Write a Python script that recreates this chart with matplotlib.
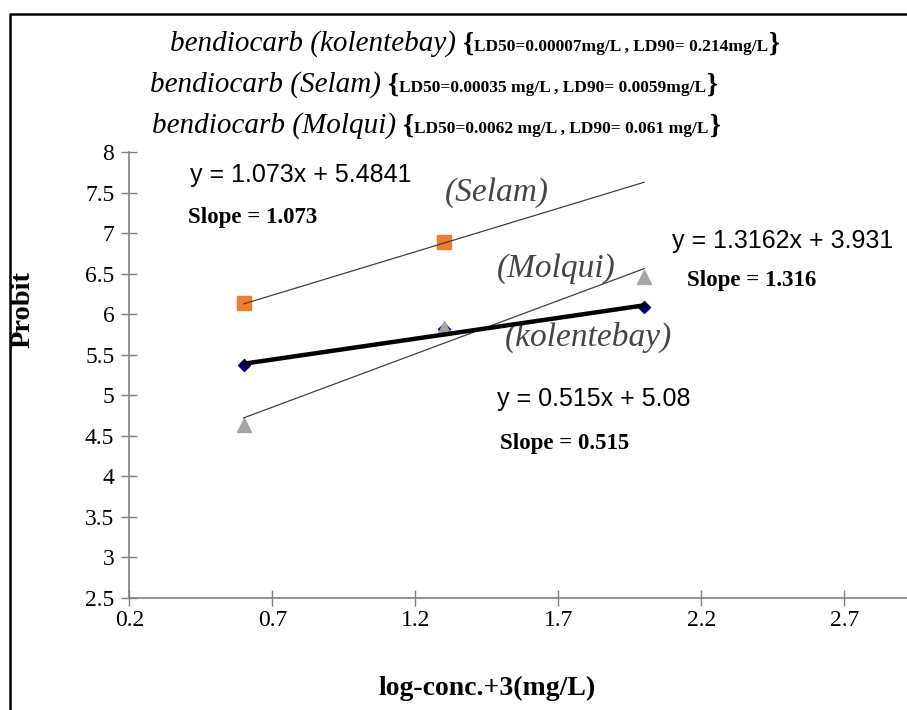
import matplotlib
matplotlib.use("Agg")
import matplotlib.pyplot as plt
import numpy as np
from matplotlib.lines import Line2D

# log(concentration)+3 at the three tested doses
log_conc = [0.6, 1.3, 2.0]

selam_x = [0.6, 1.3]
selam_probit = [6.14, 6.89]
molqui_probit = [4.63, 5.83, 6.46]
kolentebay_probit = [5.37, 5.82, 6.09]

# fitted trend lines as printed on the chart: selam, molqui, kolentebay
slopes = [1.073, 1.3162, 0.515]
intercepts = [5.4841, 3.931, 5.08]

title_sites = ["kolentebay", "Selam", "Molqui"]
title_ld = ["LD50=0.00007mg/L , LD90= 0.214mg/L",
            "LD50=0.00035 mg/L , LD90= 0.0059mg/L",
            "LD50=0.0062 mg/L , LD90= 0.061 mg/L"]

x_ticks = [0.2, 0.7, 1.2, 1.7, 2.2, 2.7]
y_ticks = [2.5, 3, 3.5, 4, 4.5, 5, 5.5, 6, 6.5, 7, 7.5, 8]

SERIF = "Liberation Serif"
SANS = "Liberation Sans"
AXIS_GRAY = "#808080"


def chain_text(figure, x, y, pieces, gap_px=6):
    renderer = figure.canvas.get_renderer()
    inv = figure.transFigure.inverted()
    for text, kwargs in pieces:
        t = figure.text(x, y, text, va="baseline", ha="left", **kwargs)
        bb = t.get_window_extent(renderer)
        x = inv.transform((bb.x1 + gap_px, bb.y0))[0]
        gap_px = 1


figure = plt.figure(figsize=(9.07, 7.10), dpi=100)
axis = figure.add_axes([129.3 / 907, 1 - 597.7 / 710, 1 - 129.3 / 907, (597.7 - 152.3) / 710])

axis.set_xlim(0.2, 0.2 + (907 - 129.3) / 286)
axis.set_ylim(2.5, 8)
axis.set_xticks(x_ticks)
axis.set_yticks(y_ticks)
axis.set_xticklabels([f"{v:g}" for v in x_ticks], family=SERIF, fontsize=17)
axis.set_yticklabels([f"{v:g}" for v in y_ticks], family=SERIF, fontsize=17)
axis.tick_params(direction="inout", length=11.5, width=1, color=AXIS_GRAY)
axis.tick_params(axis="x", pad=3)
axis.tick_params(axis="y", pad=5)
for side in ("top", "right"):
    axis.spines[side].set_visible(False)
for side in ("left", "bottom"):
    axis.spines[side].set_color(AXIS_GRAY)
    axis.spines[side].set_linewidth(1.2)

line_x = np.array([min(log_conc), max(log_conc)])
selam_fit = np.polyval([slopes[0], intercepts[0]], line_x)
molqui_fit = np.polyval([slopes[1], intercepts[1]], line_x)
kolentebay_fit = np.polyval([slopes[2], intercepts[2]], line_x)

axis.plot(line_x, selam_fit, c="#404040", lw=0.9, zorder=3)
axis.plot(line_x, molqui_fit, c="#404040", lw=0.9, zorder=3)

axis.plot(log_conc, kolentebay_probit, ls="none", marker="D", ms=6,
          c="#000080", zorder=2)
axis.plot(line_x, kolentebay_fit, c="black", lw=3.2, zorder=4)
axis.plot(selam_x, selam_probit, ls="none", marker="s", ms=9.5,
          c="#ED7D31", zorder=2)
axis.plot(log_conc, molqui_probit, ls="none", marker="^", ms=10.5,
          c="#A5A5A5", zorder=2)

equation_kw = dict(family=SANS, fontsize=18, va="center", ha="left")
slope_kw = dict(family=SERIF, fontsize=16.5, fontweight="bold", va="center", ha="left")
site_kw = dict(family=SERIF, fontsize=24, style="italic", color="#454545",
               va="center", ha="center")

axis.text(0.412, 7.72, f"y = {slopes[0]}x + {intercepts[0]}", **equation_kw)
axis.text(0.405, 7.19, f"Slope = {slopes[0]:.3f}", **slope_kw)
axis.text(2.097, 6.905, f"y = {slopes[1]}x + {intercepts[1]}", **equation_kw)
axis.text(2.149, 6.42, f"Slope = {slopes[1]:.3f}", **slope_kw)
axis.text(1.486, 4.955, f"y = {slopes[2]}x + {intercepts[2]}", **equation_kw)
axis.text(1.496, 4.41, f"Slope = {slopes[2]:.3f}", **slope_kw)

axis.text(1.485, 7.50, "(Selam)", **site_kw)
axis.text(1.693, 6.57, "(Molqui)", **site_kw)
axis.text(1.805, 5.71, "(kolentebay)", **site_kw)

axis.set_xlabel("log-conc.+3(mg/L)", family=SERIF, fontsize=20, fontweight="bold")
axis.xaxis.set_label_coords((487 - 129.3) / (907 - 129.3), -(676 - 597.7) / 445.4)
axis.set_ylabel("Probit", family=SERIF, fontsize=20.5, fontweight="bold")
axis.yaxis.set_label_coords(-(129.3 - 36) / (907 - 129.3), (597.7 - 310) / 445.4)

title_starts = [170, 150, 152]
title_baselines = [51, 92, 133]
for site, ld, x0, base in zip(title_sites, title_ld, title_starts, title_baselines):
    chain_text(figure, x0 / 907, 1 - base / 710, [
        (f"bendiocarb ({site})", dict(family=SERIF, fontsize=21, style="italic")),
        ("{", dict(family=SERIF, fontsize=20, fontweight="bold")),
        (ld, dict(family=SERIF, fontsize=12.5, fontweight="bold")),
        ("}", dict(family=SERIF, fontsize=20, fontweight="bold")),
    ])

frame = Line2D([10 / 907, 10 / 907, 1.01], [-0.01, 1 - 14 / 710, 1 - 14 / 710],
               transform=figure.transFigure, color="black", lw=1.8, clip_on=False)
figure.add_artist(frame)

figure.savefig("out.png", dpi=100)
